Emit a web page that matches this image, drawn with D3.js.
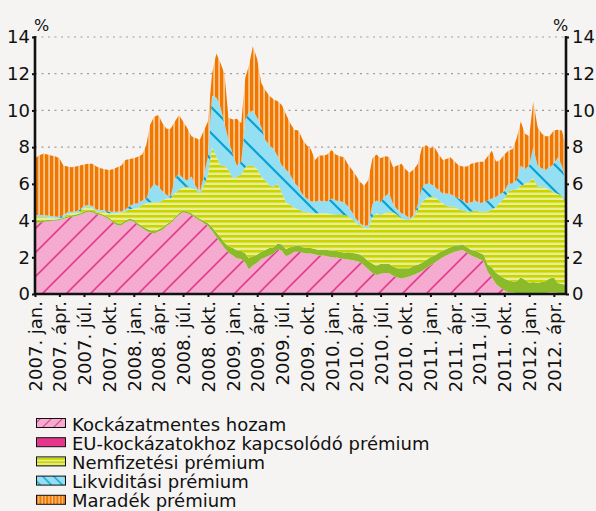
<!DOCTYPE html>
<html>
<head>
<meta charset="utf-8">
<script src="https://cdn.jsdelivr.net/npm/d3@7"></script>
<style>
  body { margin: 0; background: #f5f4f2; }
  svg { display: block; font-family: "DejaVu Sans", sans-serif; }
</style>
</head>
<body>
<svg id="chart" width="596" height="511"></svg>
<script>
// Half-monthly readings (1st and 16th of each month), 2007 jan - 2012 máj, in %
const riskFree = [
  3.88, 3.90, 3.92, 3.95, 3.97, 4.00, 4.03, 4.10, 4.15, 4.20,
  4.25, 4.30, 4.40, 4.48, 4.45, 4.35, 4.30, 4.20, 4.07, 3.90,
  3.75, 3.75, 3.90, 4.00, 3.95, 3.75, 3.60, 3.45, 3.35, 3.30,
  3.40, 3.50, 3.70, 3.85, 4.10, 4.30, 4.45, 4.40, 4.30, 4.15,
  4.00, 3.85, 3.70, 3.45, 3.10, 2.80, 2.50, 2.25, 2.10, 1.94,
  1.90, 1.70, 1.35, 1.55, 1.70, 1.90, 2.00, 2.10, 2.20, 2.45,
  2.35, 2.05, 2.15, 2.30, 2.30, 2.25, 2.20, 2.20, 2.15, 2.10,
  2.10, 2.05, 2.00, 2.00, 1.95, 1.90, 1.88, 1.85, 1.80, 1.75,
  1.55, 1.35, 1.15, 1.03, 1.10, 1.15, 1.15, 1.00, 0.90, 0.85,
  0.90, 0.95, 1.05, 1.15, 1.25, 1.40, 1.55, 1.70, 1.85, 2.00,
  2.10, 2.20, 2.30, 2.35, 2.40, 2.25, 2.10, 2.00, 1.90, 1.80,
  1.20, 0.90, 0.55, 0.35, 0.20, 0.10, 0.08, 0.05, 0.05, 0.03,
  0.00, 0.00, 0.00, 0.05, 0.05, 0.10, 0.10, 0.05, 0.00, 0.00
];
const euPremium = [
  0.08, 0.08, 0.09, 0.08, 0.07, 0.06, 0.05, 0.06, 0.07, 0.08,
  0.08, 0.08, 0.08, 0.08, 0.08, 0.08, 0.08, 0.08, 0.08, 0.09,
  0.10, 0.10, 0.10, 0.10, 0.10, 0.10, 0.10, 0.12, 0.12, 0.12,
  0.12, 0.12, 0.10, 0.10, 0.10, 0.10, 0.10, 0.10, 0.10, 0.10,
  0.10, 0.12, 0.15, 0.20, 0.25, 0.30, 0.30, 0.35, 0.40, 0.45,
  0.45, 0.50, 0.60, 0.50, 0.45, 0.40, 0.40, 0.40, 0.35, 0.30,
  0.35, 0.40, 0.40, 0.30, 0.35, 0.30, 0.30, 0.30, 0.30, 0.30,
  0.30, 0.35, 0.35, 0.35, 0.35, 0.35, 0.40, 0.40, 0.40, 0.40,
  0.45, 0.45, 0.50, 0.50, 0.55, 0.50, 0.50, 0.50, 0.50, 0.55,
  0.50, 0.45, 0.50, 0.45, 0.45, 0.45, 0.45, 0.40, 0.40, 0.35,
  0.35, 0.35, 0.35, 0.30, 0.30, 0.30, 0.30, 0.35, 0.35, 0.35,
  0.40, 0.55, 0.60, 0.65, 0.65, 0.65, 0.60, 0.65, 0.85, 0.75,
  0.60, 0.65, 0.60, 0.60, 0.65, 0.75, 0.80, 0.55, 0.55, 0.50
];
const defaultPremium = [
  0.24, 0.22, 0.19, 0.15, 0.11, 0.06, 0.02, 0.04, 0.13, 0.12,
  0.09, 0.12, 0.22, 0.19, 0.17, 0.07, 0.10, 0.17, 0.25, 0.41,
  0.55, 0.60, 0.50, 0.50, 0.61, 0.85, 1.15, 1.37, 1.53, 1.58,
  1.48, 1.48, 1.40, 1.25, 1.30, 1.26, 1.25, 1.34, 1.35, 1.45,
  1.35, 1.93, 2.65, 4.35, 4.15, 3.90, 4.20, 4.15, 3.80, 4.01,
  4.15, 4.70, 5.05, 4.95, 4.65, 4.10, 3.80, 3.40, 3.30, 3.25,
  2.80, 2.55, 2.30, 2.10, 1.95, 1.95, 1.95, 1.90, 1.95, 2.00,
  2.00, 2.00, 2.00, 1.95, 2.00, 2.05, 1.97, 1.85, 1.70, 1.60,
  1.65, 1.75, 2.55, 2.87, 2.65, 2.75, 2.85, 2.95, 2.90, 2.72,
  2.65, 2.63, 2.65, 3.00, 3.30, 3.35, 3.30, 3.20, 2.85, 2.59,
  2.35, 2.20, 2.10, 1.95, 1.85, 1.93, 2.10, 2.20, 2.25, 2.35,
  2.90, 3.15, 3.60, 4.00, 4.35, 4.85, 4.98, 5.00, 5.00, 5.22,
  5.50, 5.65, 5.25, 5.19, 5.10, 4.81, 4.65, 4.85, 4.80, 4.50
];
const liquidityPremium = [
  0.10, 0.10, 0.10, 0.10, 0.10, 0.10, 0.10, 0.10, 0.10, 0.08,
  0.08, 0.10, 0.10, 0.10, 0.10, 0.10, 0.09, 0.10, 0.10, 0.08,
  0.08, 0.05, 0.10, 0.20, 0.24, 0.24, 0.25, 0.26, 0.70, 1.00,
  0.85, 0.50, 0.20, 0.10, 0.80, 0.89, 0.50, 0.36, 0.65, 0.20,
  0.10, 0.50, 1.00, 2.80, 3.20, 3.20, 2.30, 1.65, 1.30, 0.60,
  0.70, 2.60, 2.90, 3.00, 2.80, 2.70, 2.20, 2.20, 2.05, 1.50,
  1.50, 1.80, 1.65, 1.40, 1.20, 0.90, 0.75, 0.65, 0.63, 0.70,
  0.65, 0.65, 0.85, 0.80, 0.75, 0.70, 0.55, 0.40, 0.20, 0.10,
  0.05, 0.20, 0.70, 0.70, 0.70, 0.90, 1.00, 0.45, 0.30, 0.28,
  0.25, 0.07, 0.10, 0.30, 0.80, 0.80, 0.70, 0.55, 0.55, 0.54,
  0.68, 0.70, 0.55, 0.60, 0.55, 0.47, 0.50, 0.55, 0.45, 0.50,
  0.60, 0.60, 0.55, 0.45, 0.40, 0.40, 0.37, 0.50, 1.10, 0.80,
  0.90, 1.70, 1.15, 1.01, 0.95, 1.24, 1.55, 2.00, 1.65, 1.00
];
const residualPremium = [
  3.10, 3.25, 3.35, 3.32, 3.30, 3.28, 3.20, 2.70, 2.50, 2.42,
  2.45, 2.40, 2.25, 2.25, 2.30, 2.35, 2.28, 2.25, 2.25, 2.32,
  2.42, 2.50, 2.70, 2.55, 2.50, 2.54, 2.50, 2.90, 3.50, 3.65,
  3.90, 3.70, 3.60, 3.70, 3.10, 3.20, 3.10, 2.85, 2.20, 2.60,
  2.85, 2.50, 1.90, 1.20, 2.40, 2.40, 2.70, 1.20, 1.90, 2.55,
  2.10, 2.30, 2.50, 3.50, 3.20, 2.40, 2.70, 2.70, 2.70, 3.00,
  3.30, 3.00, 2.80, 2.85, 3.10, 3.00, 2.90, 2.85, 2.27, 2.45,
  2.50, 2.55, 2.64, 2.50, 2.45, 2.45, 2.30, 2.30, 2.35, 2.25,
  2.20, 2.45, 2.50, 2.50, 2.40, 2.20, 1.98, 2.00, 2.40, 2.70,
  2.50, 2.50, 2.50, 2.20, 2.20, 2.10, 1.95, 2.15, 1.95, 1.82,
  1.87, 2.00, 1.90, 1.80, 1.85, 2.00, 2.10, 2.05, 2.25, 2.20,
  2.40, 2.60, 1.90, 1.85, 2.00, 1.80, 1.87, 2.30, 2.40, 1.95,
  1.60, 2.50, 2.10, 1.90, 1.85, 1.70, 1.80, 1.50, 1.90, 2.00
];

const seriesNames = [
  "Kockázatmentes hozam",
  "EU-kockázatokhoz kapcsolódó prémium",
  "Nemfizetési prémium",
  "Likviditási prémium",
  "Maradék prémium"
];
const monthLabels = ["jan.", "ápr.", "júl.", "okt."];
const yTicks = [0, 2, 4, 6, 8, 10, 12, 14];

const dates = riskFree.map((_, i) => new Date(2007, Math.floor(i / 2), i % 2 ? 16 : 1));
const rows = dates.map((d, i) => ({
  date: d,
  rf: riskFree[i],
  eu: euPremium[i],
  def: defaultPremium[i],
  liq: liquidityPremium[i],
  res: residualPremium[i]
}));
const keys = ["rf", "eu", "def", "liq", "res"];

const plotLeft = 35, plotRight = 566, plotTop = 37, plotBottom = 294;

const svg = d3.select("#chart");

const x = d3.scaleTime()
  .domain([new Date(2007, 0, 1), new Date(2012, 4, 16)])
  .range([plotLeft, plotRight]);
const y = d3.scaleLinear().domain([0, 14]).range([plotBottom, plotTop]);

// patterns
const defs = svg.append("defs");

function hatch(id, size, bg, color, width, forward) {
  const p = defs.append("pattern").attr("id", id)
    .attr("patternUnits", "userSpaceOnUse")
    .attr("width", size).attr("height", size);
  p.append("rect").attr("width", size).attr("height", size).attr("fill", bg);
  const s = size, h = size / 4;
  const segs = forward
    ? [[0, s, s, 0], [-h, h, h, -h], [s - h, s + h, s + h, s - h]]
    : [[0, 0, s, s], [-h, s - h, h, s + h], [s - h, -h, s + h, h]];
  segs.forEach(c => p.append("line")
    .attr("x1", c[0]).attr("y1", c[1]).attr("x2", c[2]).attr("y2", c[3])
    .attr("stroke", color).attr("stroke-width", width));
}
function stripes(id, w, h, bg, color, sw, sh) {
  const p = defs.append("pattern").attr("id", id)
    .attr("patternUnits", "userSpaceOnUse")
    .attr("width", w).attr("height", h);
  p.append("rect").attr("width", w).attr("height", h).attr("fill", bg);
  p.append("rect").attr("width", sw).attr("height", sh).attr("fill", color);
}

hatch("pinkHatch", 24, "#f5abcf", "#e23d8d", 1.6, true);
hatch("cyanHatch", 26, "#95dff2", "#06a2d6", 2.2, false);
stripes("yellowStripe", 4, 5, "#e8ee94", "#cad500", 4, 2.6);
stripes("orangeStripe", 5, 4, "#f9c590", "#f07800", 3.2, 4);
hatch("pinkHatchS", 11, "#f5abcf", "#e23d8d", 1.2, true);
hatch("cyanHatchS", 11, "#95dff2", "#06a2d6", 1.3, false);
stripes("orangeStripeS", 3.4, 4, "#f9c590", "#f07800", 2.1, 4);
stripes("yellowStripeS", 4, 3.4, "#e8ee94", "#cad500", 4, 1.8);

const areaFills = ["url(#pinkHatch)", "#8bbb2a", "url(#yellowStripe)", "url(#cyanHatch)", "url(#orangeStripe)"];
const legendFills = ["url(#pinkHatchS)", "#e6368c", "url(#yellowStripeS)", "url(#cyanHatchS)", "url(#orangeStripeS)"];

// grid
svg.append("g").selectAll("line")
  .data(yTicks.filter(d => d > 0))
  .join("line")
  .attr("x1", plotLeft).attr("x2", plotRight)
  .attr("y1", d => y(d)).attr("y2", d => y(d))
  .attr("stroke", "#9d9d9d").attr("stroke-width", 1.2)
  .attr("stroke-dasharray", "2,4.5");

// stacked areas
const stacked = d3.stack().keys(keys)(rows);
const area = d3.area()
  .x(d => x(d.data.date))
  .y0(d => y(d[0]))
  .y1(d => y(d[1]));

svg.append("g").selectAll("path")
  .data(stacked)
  .join("path")
  .attr("d", area)
  .attr("fill", (d, i) => areaFills[i]);

// axes
const quarterTicks = d3.timeMonth.every(3).range(new Date(2007, 0, 1), new Date(2012, 4, 1));

const xAxis = svg.append("g")
  .attr("transform", `translate(0,${plotBottom})`)
  .call(d3.axisBottom(x).tickValues(quarterTicks).tickSize(3).tickSizeOuter(0)
    .tickFormat(d => `${d.getFullYear()}. ${monthLabels[d.getMonth() / 3]}`));
xAxis.select(".domain").remove();
xAxis.selectAll(".tick line").attr("stroke", "#111").attr("stroke-width", 2);
xAxis.selectAll(".tick text")
  .attr("transform", "rotate(-90)")
  .attr("text-anchor", "end")
  .attr("x", -7).attr("y", 0).attr("dy", "0.36em")
  .attr("fill", "#111")
  .style("font-size", "18px")
  .style("font-family", "DejaVu Sans");

const yLeft = svg.append("g")
  .attr("transform", `translate(${plotLeft},0)`)
  .call(d3.axisLeft(y).tickValues(yTicks).tickSize(3).tickPadding(2));
const yRight = svg.append("g")
  .attr("transform", `translate(${plotRight},0)`)
  .call(d3.axisRight(y).tickValues(yTicks).tickSize(3).tickPadding(3));
[yLeft, yRight].forEach(g => {
  g.select(".domain").remove();
  g.selectAll(".tick line").attr("stroke", "#111").attr("stroke-width", 2);
  g.selectAll(".tick text").attr("fill", "#111")
    .style("font-size", "18px").style("font-family", "DejaVu Sans");
});

// axis frame lines
svg.append("line").attr("x1", plotLeft).attr("x2", plotLeft).attr("y1", plotTop - 1).attr("y2", plotBottom + 1)
  .attr("stroke", "#111").attr("stroke-width", 2.6);
svg.append("line").attr("x1", plotRight).attr("x2", plotRight).attr("y1", plotTop - 1).attr("y2", plotBottom + 1)
  .attr("stroke", "#111").attr("stroke-width", 2.6);
svg.append("line").attr("x1", plotLeft - 1).attr("x2", plotRight + 1).attr("y1", plotBottom).attr("y2", plotBottom)
  .attr("stroke", "#111").attr("stroke-width", 2.6);

// unit labels
svg.append("text").attr("x", 34).attr("y", 31).text("%")
  .attr("fill", "#111").style("font-size", "16px");
svg.append("text").attr("x", 553).attr("y", 31).text("%")
  .attr("fill", "#111").style("font-size", "16px");

// legend
const legend = svg.append("g").selectAll("g")
  .data(seriesNames)
  .join("g")
  .attr("transform", (d, i) => `translate(36,${423 + i * 19.2})`);
legend.append("rect")
  .attr("x", 0.5).attr("y", -4.5).attr("width", 29).attr("height", 9)
  .attr("fill", (d, i) => legendFills[i])
  .attr("stroke", "#111").attr("stroke-width", 1);
legend.append("text")
  .attr("x", 36).attr("y", 7.5)
  .attr("fill", "#111")
  .style("font-size", "18px")
  .text(d => d);
</script>
</body>
</html>
